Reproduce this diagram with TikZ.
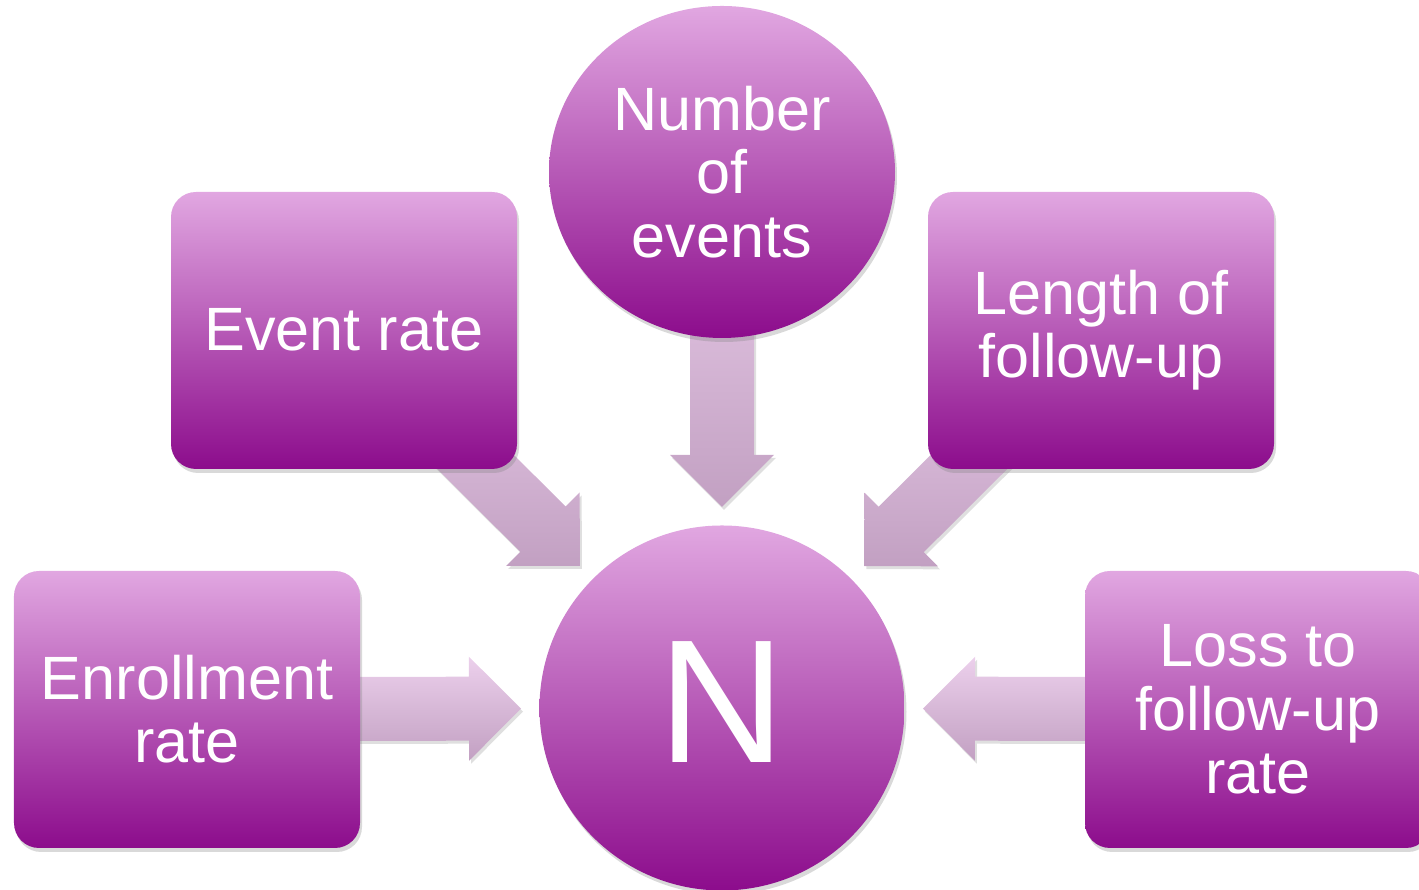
\documentclass[tikz,border=0pt]{standalone}
\usepackage{fontspec}
\setmainfont{Liberation Sans}
\usetikzlibrary{calc,shadows,shapes.geometric,backgrounds}

\definecolor{boxtop}{RGB}{225,167,225}
\definecolor{boxbot}{RGB}{140,12,140}
\definecolor{flowtop}{RGB}{236,208,236}
\definecolor{flowbot}{RGB}{194,160,194}

\begin{document}
\begin{tikzpicture}[
    factor/.style={rectangle, rounded corners=0.25cm, minimum width=3.46cm, minimum height=2.77cm,
        top color=boxtop, bottom color=boxbot, text=white, align=center,
        font=\fontsize{17.4}{18}\selectfont,
        drop shadow={shadow xshift=0.02cm, shadow yshift=-0.04cm, opacity=0.3}},
    flow/.style={top color=flowtop, bottom color=flowbot,
        drop shadow={shadow xshift=0.02cm, shadow yshift=-0.03cm, opacity=0.25}}
    ]
        \useasboundingbox (0,0) rectangle (14.19,8.90);

        % centre and the five factors
        \node[factor, circle, minimum size=3.65cm, font=\fontsize{50}{50}\selectfont] (N) at (7.22,1.82) {\raisebox{0.11cm}{N}};
        \node[factor, ellipse, minimum width=3.46cm, minimum height=3.32cm] (num) at (7.22,7.18) {Number\\of\\events};
        \node[factor] (ev) at (3.44,5.595) {\raisebox{0.02cm}{Event rate}};
        \node[factor] (len) at (11.01,5.595) {Length of\\follow-up};
        \node[factor] (enr) at (1.87,1.805) {Enrollment\\rate};
        \node[factor] (loss) at (12.58,1.805) {Loss to\\follow-up\\rate};

        % block arrows into N
        \newcommand{\flowarrow}[1]{
            \coordinate (tip) at ($(N.center)!2.01cm!(#1.center)$);
            \coordinate (base) at ($(tip)!0.52cm!(#1.center)$);
            \path[flow] ($(#1.center)!0.32cm!90:(tip)$) -- ($(base)!0.32cm!90:(tip)$)
                -- ($(base)!0.52cm!90:(tip)$) -- (tip) -- ($(base)!0.52cm!-90:(tip)$)
                -- ($(base)!0.32cm!-90:(tip)$) -- ($(#1.center)!0.32cm!-90:(tip)$) -- cycle;
        }
        \begin{scope}[on background layer]
            \foreach \src in {num,ev,len,enr,loss} {
                \flowarrow{\src}
            }
        \end{scope}
    \end{tikzpicture}
\end{document}
